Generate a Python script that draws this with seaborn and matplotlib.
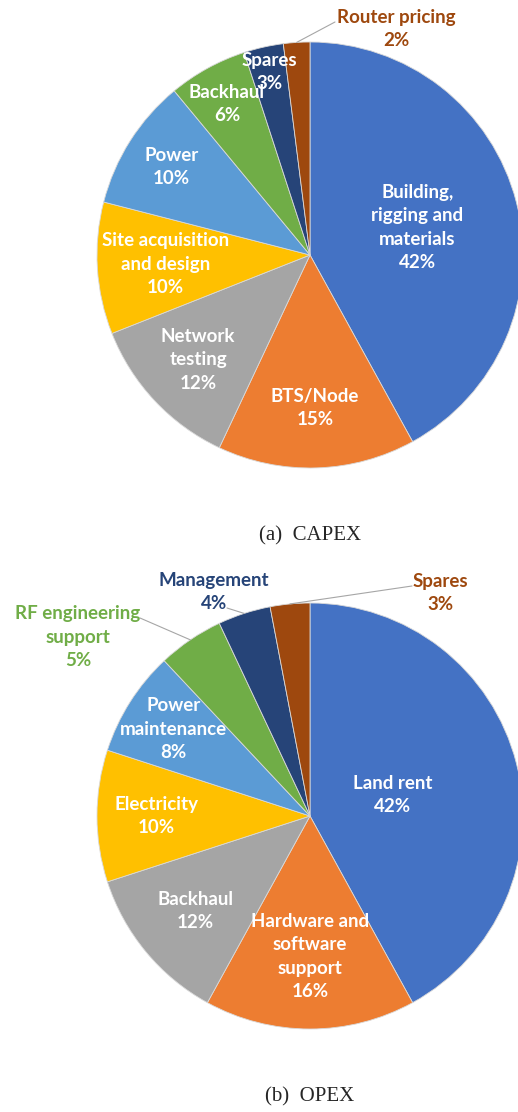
import numpy as np
import matplotlib.pyplot as plt
import seaborn as sns

# CAPEX breakdown (%)
capex_labels = ['Building,\nrigging and\nmaterials', 'BTS/Node', 'Network\ntesting',
                'Site acquisition\nand design', 'Power', 'Backhaul', 'Spares', 'Router pricing']
capex_values = [42, 15, 12, 10, 10, 6, 3, 2]

# OPEX breakdown (%)
opex_labels = ['Land rent', 'Hardware and\nsoftware\nsupport', 'Backhaul', 'Electricity',
               'Power\nmaintenance', 'RF engineering\nsupport', 'Management', 'Spares']
opex_values = [42, 16, 12, 10, 8, 5, 4, 3]

colors = ['#4472C4', '#ED7D31', '#A5A5A5', '#FFC000', '#5B9BD5', '#70AD47', '#264478', '#9E480E']

W, H = 518, 1112
R = 213

sns.set_theme(style='white')
plt.rcParams['font.family'] = ['Lato', 'DejaVu Sans']

fig = plt.figure(figsize=(W / 100, H / 100), dpi=100)
ax = fig.add_axes([0, 0, 1, 1])


def draw_pie(ax, labels, values, center_px, placement, caption, caption_y):
    cx, cy = center_px[0], H - center_px[1]
    wedges, _ = ax.pie(values, colors=colors, startangle=90, counterclock=False,
                       radius=R, center=(cx, cy),
                       wedgeprops=dict(linewidth=0.6, edgecolor='#d9d9d9'))
    for w, lab, val, pl in zip(wedges, labels, values, placement):
        ang = np.deg2rad((w.theta1 + w.theta2) / 2)
        txt = f'{lab}\n{val}%'
        if pl[0] == 'in':
            d = pl[1] * R
            ax.text(cx + d * np.cos(ang), cy + d * np.sin(ang), txt, color='white',
                    ha='center', va='center', fontsize=13.5, fontweight='bold',
                    linespacing=1.45)
        else:
            # outside label with leader line (offset of text from centre, in px)
            tx, ty, lx, ly = pl[1], pl[2], pl[3], pl[4]
            ex, ey = cx + R * np.cos(ang), cy + R * np.sin(ang)
            ax.plot([ex, cx + lx], [ey, cy + ly], color='#a6a6a6', lw=0.8)
            ax.text(cx + tx, cy + ty, txt, color=w.get_facecolor(),
                    ha='center', va='center', fontsize=13.5, fontweight='bold',
                    linespacing=1.45)
    ax.text(cx, H - caption_y, caption, ha='center', va='center', fontsize=15,
            family='Liberation Serif')


capex_place = [('in', 0.52), ('in', 0.72), ('in', 0.72), ('in', 0.68),
               ('in', 0.77), ('in', 0.81), ('in', 0.88), ('out', 86, 226, 25, 233)]
opex_place = [('in', 0.40), ('in', 0.66), ('in', 0.70), ('in', 0.72),
              ('in', 0.76), ('out', -232, 179, -170, 198),
              ('out', -96, 224, -83, 208), ('out', 130, 223, 102, 230)]

draw_pie(ax, capex_labels, capex_values, (310, 255), capex_place, '(a)  CAPEX', 536)
draw_pie(ax, opex_labels, opex_values, (310, 816), opex_place, '(b)  OPEX', 1097)

ax.set_xlim(0, W)
ax.set_ylim(0, H)
ax.set_aspect('equal')
ax.axis('off')

fig.savefig('out.png', dpi=100)
